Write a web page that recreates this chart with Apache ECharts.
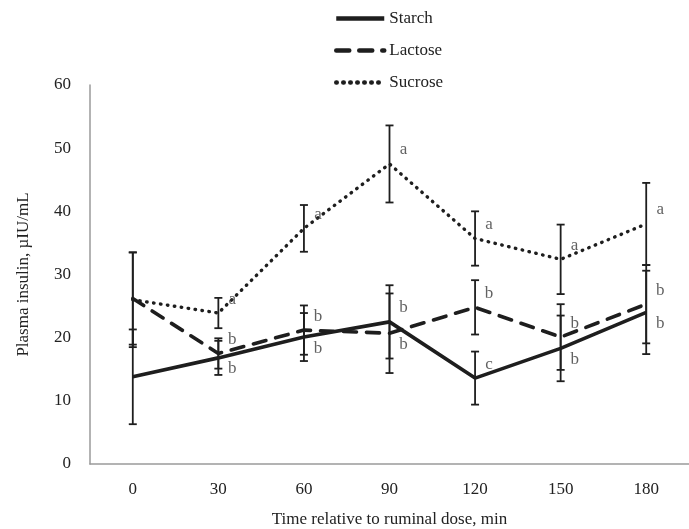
<!DOCTYPE html>
<html>
<head>
<meta charset="utf-8">
<script src="https://cdn.jsdelivr.net/npm/echarts@6/dist/echarts.min.js"></script>
<style>html,body{margin:0;padding:0;background:#fff}#c{width:689px;height:529px}</style>
</head>
<body>
<div id="c"></div>
<script>
const categories = ['0', '30', '60', '90', '120', '150', '180'];
const starch = [13.8, 16.8, 20.1, 22.5, 13.6, 18.3, 24.0];
const starchErr = [7.5, 2.7, 3.8, 5.8, 4.2, 5.2, 6.6];
const lactose = [26.2, 17.5, 21.2, 20.7, 24.8, 20.1, 25.3];
const lactoseErr = [7.3, 2.4, 3.9, 6.3, 4.3, 5.2, 6.2];
const sucrose = [26.0, 23.9, 37.3, 47.5, 35.7, 32.4, 38.0];
const sucroseErr = [7.5, 2.4, 3.7, 6.1, 4.3, 5.5, 6.5];
const starchLetters = ['', 'b', 'b', 'b', 'c', 'b', 'b'];
const lactoseLetters = ['', 'b', 'b', 'b', 'b', 'b', 'b'];
const sucroseLetters = ['', 'a', 'a', 'a', 'a', 'a', 'a'];
const yTicks = [0, 10, 20, 30, 40, 50, 60];

const FONT = '"Liberation Serif", "DejaVu Serif", serif';
const INK = '#1e1e1e';

function errData(vals, errs) {
  return vals.map((v, i) => [i, v - errs[i], v + errs[i]]);
}
function errSeries(name, vals, errs) {
  return {
    type: 'custom', name: name + '-err', silent: true, z: 3,
    data: errData(vals, errs),
    encode: { x: 0, y: [1, 2] },
    renderItem: function (params, api) {
      const lo = api.coord([api.value(0), api.value(1)]);
      const hi = api.coord([api.value(0), api.value(2)]);
      const w = 4;
      const st = { stroke: INK, lineWidth: 1.8 };
      return {
        type: 'group', children: [
          { type: 'line', shape: { x1: hi[0], y1: hi[1], x2: lo[0], y2: lo[1] }, style: st },
          { type: 'line', shape: { x1: hi[0] - w, y1: hi[1], x2: hi[0] + w, y2: hi[1] }, style: st },
          { type: 'line', shape: { x1: lo[0] - w, y1: lo[1], x2: lo[0] + w, y2: lo[1] }, style: st }
        ]
      };
    }
  };
}
function labelSide(series, i) {
  if (series === 'Sucrose') return -1;
  const own = series === 'Starch' ? starch[i] : lactose[i];
  const other = series === 'Starch' ? lactose[i] : starch[i];
  if (own < other && other - own < 6) return 1;
  return -1;
}
function letterSeries(name, vals, letters) {
  return {
    type: 'scatter', name: name + '-lbl', silent: true, symbolSize: 0, z: 4,
    data: vals.map((v, i) => ({
      value: [i, v],
      label: {
        show: letters[i] !== '',
        formatter: letters[i],
        position: 'inside',
        offset: [14, labelSide(name, i) > 0 ? 11 : -14],
        fontFamily: FONT, fontSize: 17, color: '#3a3a3a'
      }
    }))
  };
}
function lineSeries(name, vals, lineStyle) {
  return {
    type: 'line', name: name, data: vals, symbol: 'none', showSymbol: false, z: 2,
    lineStyle: Object.assign({ color: INK }, lineStyle),
    itemStyle: { color: INK }
  };
}

const chart = echarts.init(document.getElementById('c'), null, { renderer: 'canvas' });
chart.setOption({
  animation: false,
  backgroundColor: '#fff',
  grid: { left: 90, right: 0, top: 85, bottom: 65, outerBoundsMode: 'none', containLabel: false },
  legend: {
    data: ['Starch', 'Lactose', 'Sucrose'],
    orient: 'vertical', left: 329, top: 5,
    itemWidth: 48, itemHeight: 14, itemGap: 15,
    itemStyle: { opacity: 0 },
    lineStyle: { width: 4.5 },
    textStyle: { fontFamily: FONT, fontSize: 17, color: '#222' }
  },
  xAxis: {
    type: 'category', data: categories, boundaryGap: true,
    name: 'Time relative to ruminal dose, min', nameLocation: 'middle', nameGap: 47,
    nameTextStyle: { fontFamily: FONT, fontSize: 17, color: '#222' },
    axisLine: { lineStyle: { color: '#9a9a9a', width: 1.5 } },
    axisTick: { show: false },
    axisLabel: { fontFamily: FONT, fontSize: 17, color: '#222', margin: 17 }
  },
  yAxis: {
    type: 'value', min: yTicks[0], max: yTicks[yTicks.length - 1], interval: 10,
    name: 'Plasma insulin, µIU/mL', nameLocation: 'middle', nameGap: 58,
    nameTextStyle: { fontFamily: FONT, fontSize: 17, color: '#222' },
    axisLine: { show: true, lineStyle: { color: '#9a9a9a', width: 1.5 } },
    axisTick: { show: false },
    splitLine: { show: false },
    axisLabel: { fontFamily: FONT, fontSize: 17, color: '#222', margin: 19 }
  },
  series: [
    lineSeries('Starch', starch, { width: 3.6, type: 'solid' }),
    lineSeries('Lactose', lactose, { width: 3.6, type: [13, 10], cap: 'round' }),
    lineSeries('Sucrose', sucrose, { width: 3.4, type: [0.5, 6.5], cap: 'round' }),
    errSeries('Starch', starch, starchErr),
    errSeries('Lactose', lactose, lactoseErr),
    errSeries('Sucrose', sucrose, sucroseErr),
    letterSeries('Starch', starch, starchLetters),
    letterSeries('Lactose', lactose, lactoseLetters),
    letterSeries('Sucrose', sucrose, sucroseLetters)
  ]
});
</script>
</body>
</html>
